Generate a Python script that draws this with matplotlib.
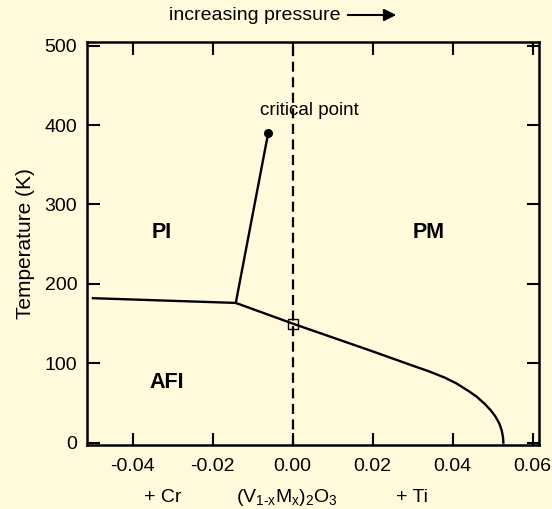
import matplotlib
matplotlib.use("Agg")
import matplotlib.pyplot as plt
from matplotlib.transforms import blended_transform_factory

plt.rcParams['font.family'] = ['Liberation Sans', 'DejaVu Sans']
plt.rcParams['axes.unicode_minus'] = False
plt.rcParams['mathtext.fontset'] = 'custom'
plt.rcParams['mathtext.rm'] = 'Liberation Sans'
plt.rcParams['mathtext.it'] = 'Liberation Sans'

# Phase boundaries of (V1-xMx)2O3: doping x vs temperature (K)
afi_pi_x = [-0.0502, -0.0142]
afi_pi_T = [182, 176]

pi_pm_x = [-0.0142, -0.0061]
pi_pm_T = [176, 390]

afi_pm_x = [-0.0142, 0.0, 0.02, 0.03, 0.034, 0.038, 0.041, 0.044, 0.046,
            0.048, 0.0495, 0.0507, 0.0517, 0.0523, 0.0526, 0.0527]
afi_pm_T = [176, 150, 115, 97, 90, 82, 74.5, 65, 58, 49, 41, 33, 24, 15, 7, 0]

critical_point = (-0.0061, 390)
pure_v2o3 = (0.0, 150)

x_ticks = [-0.04, -0.02, 0.00, 0.02, 0.04, 0.06]
x_tick_labels = ['-0.04', '-0.02', '0.00', '0.02', '0.04', '0.06']
y_ticks = [0, 100, 200, 300, 400, 500]

phase_labels = [('PI', -0.0327, 265), ('PM', 0.034, 265), ('AFI', -0.0314, 76)]
dopant_labels = [('+ Cr', -0.0324),
                 (r'(V$_{\mathrm{1\text{-}x}}$M$_\mathrm{x}$)$_\mathrm{2}$O$_\mathrm{3}$', -0.0014),
                 ('+ Ti', 0.0298)]

bg = '#fffadc'
fig = plt.figure(figsize=(5.52, 5.09), dpi=100, facecolor=bg)
ax = fig.add_axes([0.1576, 0.1257, 0.8188, 0.7923], facecolor=bg)

lw = 1.7
ax.plot(afi_pi_x, afi_pi_T, color='black', lw=lw, solid_capstyle='butt')
ax.plot(pi_pm_x, pi_pm_T, color='black', lw=lw)
ax.plot(afi_pm_x, afi_pm_T, color='black', lw=lw, solid_joinstyle='round')
ax.axvline(0.0, color='black', lw=1.6, dashes=(4.5, 2.5), zorder=1)
ax.plot(*critical_point, 'o', color='black', ms=5.5)
ax.plot(*pure_v2o3, 's', mfc='none', mec='black', ms=6.5, mew=1.0)

ax.text(critical_point[0] + 0.0104, critical_point[1] + 28, 'critical point',
        fontsize=13.5, ha='center', va='center')

for name, x, y in phase_labels:
    ax.text(x, y, name, fontsize=15.5, fontweight='bold', ha='center', va='center')

ax.set_xlim(-0.0514, 0.0616)
ax.set_ylim(-3, 505)
ax.set_xticks(x_ticks)
ax.set_xticklabels(x_tick_labels)
ax.set_yticks(y_ticks)
ax.tick_params(direction='in', length=9, width=1.5, labelsize=14,
               top=True, right=True, pad=7)
ax.tick_params(axis='x', pad=9)
for s in ax.spines.values():
    s.set_linewidth(1.8)

ax.set_ylabel('Temperature (K)', fontsize=15, labelpad=7)

trans = blended_transform_factory(ax.transData, fig.transFigure)
for name, x in dopant_labels:
    ax.text(x, 1 - 497 / 509, name, fontsize=14, ha='center', va='center',
            transform=trans)

fig.text(255 / 552, 1 - 16 / 509, 'increasing pressure', fontsize=14,
         ha='center', va='center')
fig.add_artist(matplotlib.patches.FancyArrowPatch(
    (345 / 552, 1 - 15 / 509), (399 / 552, 1 - 15 / 509),
    transform=fig.transFigure, arrowstyle='-|>', mutation_scale=18,
    lw=1.5, color='black'))

fig.savefig('out.png', dpi=100, facecolor=bg)
